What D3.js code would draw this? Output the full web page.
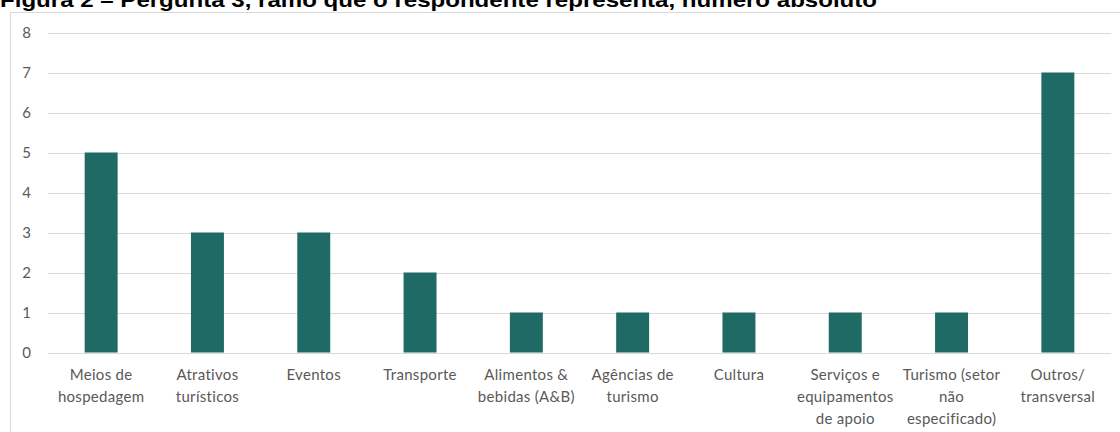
<!DOCTYPE html>
<html><head><meta charset="utf-8">
<script src="https://cdn.jsdelivr.net/npm/d3@7"></script>
<style>body{margin:0;background:#fff;overflow:hidden}</style>
</head><body>
<svg id="c" width="1120" height="432"></svg>
<script>
const title = "Figura 2 – Pergunta 3, ramo que o respondente representa, número absoluto";
const categories = [
  ["Meios de","hospedagem"],
  ["Atrativos","turísticos"],
  ["Eventos"],
  ["Transporte"],
  ["Alimentos &","bebidas (A&B)"],
  ["Agências de","turismo"],
  ["Cultura"],
  ["Serviços e","equipamentos","de apoio"],
  ["Turismo (setor","não","especificado)"],
  ["Outros/","transversal"]
];
const values = [5,3,3,2,1,1,1,1,1,7];
const yTicks = [0,1,2,3,4,5,6,7,8];

const svg = d3.select("#c");
svg.append("text").attr("x",0).attr("y",6.5)
  .attr("font-family","Liberation Sans, Arial").attr("font-weight","bold")
  .attr("font-size",20).attr("fill","#000").text(title)
  .attr("textLength",877).attr("lengthAdjust","spacingAndGlyphs");
svg.append("rect").attr("x",10.5).attr("y",12.5).attr("width",1130).attr("height",440)
  .attr("fill","#fff").attr("stroke","#d9d9d9");

const mLeft=48, mRight=1111, mTop=32.5, mBottom=352.5;
const x = d3.scaleBand().domain(d3.range(categories.length)).range([mLeft,mRight]).paddingInner(0.69).paddingOuter(0.345);
const y = d3.scaleLinear().domain([0,8]).range([mBottom,mTop]);

const grid = svg.append("g");
grid.selectAll("line").data(yTicks).join("line")
  .attr("x1",mLeft).attr("x2",mRight).attr("y1",d=>Math.round(y(d))+0.5).attr("y2",d=>Math.round(y(d))+0.5)
  .attr("stroke","#d9d9d9").attr("stroke-width",1);

svg.append("g").selectAll("rect").data(values).join("rect")
  .attr("x",(d,i)=>x(i)).attr("width",x.bandwidth())
  .attr("y",d=>y(d)).attr("height",d=>y(0)-y(d))
  .attr("fill","#1f6a64");

const yAxis = d3.axisLeft(y).tickValues(yTicks).tickSize(0).tickPadding(0);
const ya = svg.append("g").attr("transform","translate(31,0)").call(yAxis);
ya.select(".domain").remove();
ya.selectAll("text").attr("font-family","Lato, Open Sans, sans-serif").attr("font-size",15).attr("fill","#595959");

const labels = svg.append("g").selectAll("text").data(categories).join("text")
  .attr("x",(d,i)=>x(i)+x.bandwidth()/2).attr("y",380)
  .attr("text-anchor","middle").attr("font-family","Lato, Open Sans, sans-serif")
  .attr("font-size",15).attr("letter-spacing",0.3).attr("fill","#595959");
labels.each(function(d){
  const t=d3.select(this);
  d.forEach((s,j)=>t.append("tspan").attr("x",t.attr("x")).attr("dy",j?22:0).text(s));
});
</script>
</body></html>
